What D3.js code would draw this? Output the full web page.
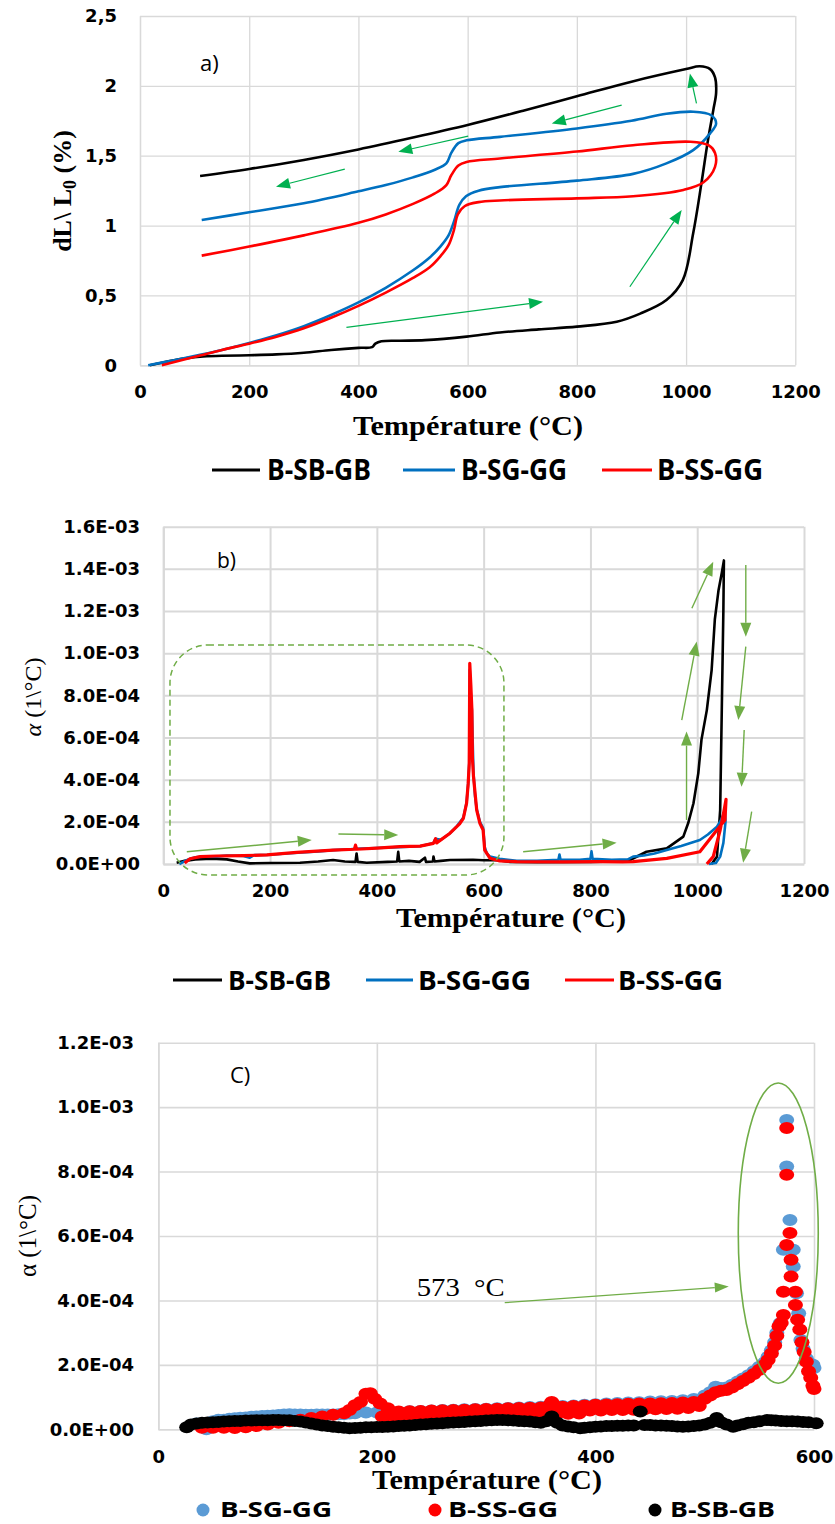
<!DOCTYPE html>
<html><head><meta charset="utf-8">
<script src="https://cdn.jsdelivr.net/npm/d3@7"></script>
<style>body{margin:0;background:#fff}svg{display:block}</style>
</head><body>
<script>
// ---------------- DATA ----------------
const seriesNames = ["B-SB-GB", "B-SG-GG", "B-SS-GG"];
// Panel a) dL/L0 (%) vs temperature (°C), heating then cooling path
const aBlack = [[18,0],[60,0.035],[110,0.062],[150,0.068],[200,0.072],[250,0.078],[300,0.09],[350,0.11],[400,0.125],[425,0.13],[431,0.155],[442,0.172],[476,0.176],[522,0.18],[598,0.205],[659,0.235],[730,0.257],[800,0.277],[873,0.312],[916,0.37],[964,0.467],[994,0.61],[1013,0.945],[1028,1.30],[1040,1.61],[1050,1.83],[1055,1.95],[1053,2.06],[1044,2.12],[1025,2.14],[1000,2.12],[900,2.03],[800,1.925],[700,1.82],[600,1.72],[500,1.63],[400,1.545],[300,1.47],[200,1.405],[110,1.355]];
const aBlue = [[15,0],[60,0.035],[110,0.075],[150,0.11],[200,0.16],[250,0.215],[300,0.28],[350,0.36],[400,0.45],[450,0.555],[500,0.68],[530,0.77],[550,0.85],[565,0.93],[575,1.03],[585,1.15],[597,1.21],[620,1.25],[659,1.275],[800,1.322],[903,1.37],[964,1.445],[1013,1.54],[1044,1.66],[1055,1.73],[1046,1.79],[1013,1.815],[964,1.80],[900,1.75],[800,1.695],[659,1.635],[598,1.61],[583,1.59],[570,1.52],[561,1.445],[540,1.40],[500,1.345],[450,1.29],[400,1.245],[300,1.16],[200,1.095],[113,1.04]];
const aRed = [[40,0],[110,0.07],[150,0.11],[200,0.155],[250,0.205],[300,0.265],[350,0.34],[400,0.425],[450,0.52],[500,0.625],[530,0.7],[550,0.78],[565,0.86],[575,0.97],[582,1.08],[595,1.14],[620,1.168],[659,1.18],[800,1.195],[903,1.21],[995,1.255],[1032,1.31],[1053,1.42],[1053,1.52],[1041,1.575],[1008,1.60],[903,1.575],[800,1.53],[659,1.48],[598,1.455],[583,1.43],[570,1.36],[561,1.29],[540,1.23],[500,1.155],[450,1.08],[400,1.02],[300,0.93],[200,0.85],[113,0.785]];
const aTicksX = [0,200,400,600,800,1000,1200];
const aTicksY = [0,0.5,1,1.5,2,2.5];
// arrows [T1,v1,T2,v2]
const aArrows = [[378,0.272,738,0.455],[897,0.562,992,1.111],[1019,1.874,1007,2.089],[882,1.862,754,1.731],[601,1.640,473,1.528],[375,1.404,249,1.278]];

// Panel b) alpha (x 1e-4 /°C) vs temperature
const bBlack = [[25,0.06],[40,0.15],[60,0.22],[90,0.25],[119,0.22],[140,0.12],[162,0.03],[200,0.05],[256,0.06],[290,0.12],[318,0.19],[340,0.12],[360,0.1],[362,0.5],[364,0.1],[381,0.06],[420,0.1],[438,0.12],[440,0.58],[442,0.12],[460,0.15],[480,0.1],[490,0.3],[492,0.1],[505,0.12],[506,0.35],[508,0.12],[520,0.15],[537,0.19],[580,0.2],[600,0.18],[624,0.19],[650,0.1],[700,0.08],[800,0.1],[850,0.12],[874,0.19],[905,0.58],[943,0.74],[974,1.3],[983,1.93],[993,2.88],[1002,4.3],[1008,5.9],[1018,7.3],[1027,9.2],[1033,11.6],[1040,13.0],[1046,13.8],[1050,14.4],[1049,12.05],[1046,7.3],[1043,2.56],[1037,0.35],[1027,0]];
const bBlue = [[30,0],[45,0.2],[60,0.32],[80,0.36],[100,0.35],[119,0.4],[150,0.38],[162,0.3],[170,0.42],[194,0.43],[230,0.5],[260,0.55],[290,0.6],[318,0.66],[350,0.7],[360,0.72],[400,0.76],[440,0.8],[481,0.84],[506,1.0],[510,1.2],[520,1.15],[537,1.46],[550,1.8],[562,2.2],[568,2.9],[571,3.8],[573,4.8],[574,9.2],[576,8.0],[578,7.3],[581,4.3],[584,3.2],[587,2.6],[593,2.0],[599,1.7],[602,0.8],[606,0.5],[612,0.35],[630,0.25],[662,0.15],[700,0.15],[740,0.2],[742,0.45],[744,0.2],[780,0.2],[800,0.25],[802,0.6],[804,0.25],[840,0.2],[870,0.22],[880,0.35],[900,0.4],[920,0.5],[943,0.66],[970,0.85],[1005,1.14],[1020,1.4],[1037,1.77],[1045,2.1],[1052,2.56],[1053,2.0],[1049,1.0],[1043,0.35],[1035,0.05],[1022,0]];
const bRed = [[40,0.05],[50,0.25],[69,0.35],[100,0.38],[150,0.4],[194,0.43],[250,0.55],[318,0.66],[358,0.7],[360,0.9],[362,0.7],[400,0.75],[443,0.82],[481,0.85],[506,0.98],[510,1.2],[512,1.0],[537,1.46],[555,1.9],[562,2.17],[568,2.88],[571,3.8],[573,4.78],[574,9.52],[576,8.5],[578,7.3],[579,5.0],[581,4.14],[587,2.56],[593,1.93],[599,1.61],[602,0.66],[612,0.27],[630,0.15],[662,0.11],[750,0.1],[818,0.11],[860,0.1],[880,0.11],[943,0.27],[1005,0.58],[1037,1.61],[1052,2.09],[1054,3.07],[1050,2.5],[1043,1.61],[1030,0.35],[1018,0]];
const bTicksX = [0,200,400,600,800,1000,1200];
const bTicksY = [0,2,4,6,8,10,12,14,16];
const bArrows = [[44,0.58,278,1.14],[328,1.42,440,1.38],[674,0.58,849,1.01],[980,2.09,980,6.28],[971,6.83,999,10.55],[990,12.13,1030,14.34],[1091,14.18,1091,10.78],[1091,10.31,1077,6.83],[1088,6.36,1083,3.67],[1102,2.48,1086,0.06]];
const bBox = [12.5, 638, -0.52, 10.39]; // T0,T1,v0,v1

// Panel c) alpha (x 1e-4 /°C) scatter, 0-600 °C
const cBlue = [[35,0.18],[44,0.0],[50,0.25],[55,0.3],[60,0.3],[65,0.33],[70,0.34],[75,0.36],[80,0.37],[85,0.39],[90,0.4],[95,0.41],[100,0.42],[105,0.43],[110,0.44],[115,0.46],[120,0.47],[125,0.46],[130,0.46],[135,0.45],[140,0.45],[145,0.46],[150,0.46],[155,0.46],[160,0.46],[165,0.47],[170,0.47],[175,0.49],[180,0.5],[190,0.52],[200,0.52],[210,0.53],[220,0.54],[230,0.56],[240,0.57],[250,0.58],[260,0.6],[270,0.61],[280,0.62],[290,0.63],[300,0.64],[310,0.65],[320,0.66],[330,0.68],[340,0.69],[350,0.7],[360,0.82],[370,0.72],[380,0.74],[390,0.76],[400,0.78],[410,0.8],[420,0.82],[430,0.83],[440,0.84],[450,0.86],[460,0.87],[470,0.88],[480,0.9],[490,0.94],[500,1.05],[505,1.15],[510,1.32],[515,1.28],[520,1.3],[525,1.38],[530,1.48],[535,1.58],[540,1.68],[545,1.8],[550,1.94],[555,2.08],[558,2.25],[561,2.45],[564,2.7],[566,3.0],[569,3.29],[572,5.57],[575,8.16],[575,9.6],[578,6.5],[581,5.57],[581,5.05],[584,4.22],[586,3.6],[588,2.77],[590,2.5],[593,2.2],[596,2.05],[599,2.0],[600,1.9]];
const cRed = [[40,0.05],[50,0.05],[60,0.05],[70,0.04],[80,0.06],[90,0.1],[100,0.15],[110,0.2],[120,0.25],[130,0.3],[140,0.35],[150,0.4],[160,0.45],[170,0.5],[175,0.6],[180,0.75],[185,0.85],[190,1.1],[194,1.12],[198,0.95],[203,0.8],[210,0.65],[220,0.55],[230,0.56],[240,0.57],[250,0.58],[260,0.59],[270,0.6],[280,0.61],[290,0.62],[300,0.63],[310,0.64],[320,0.65],[330,0.66],[340,0.67],[350,0.68],[358,0.75],[360,0.85],[362,0.75],[370,0.7],[380,0.72],[390,0.74],[400,0.76],[410,0.77],[420,0.78],[430,0.79],[440,0.8],[450,0.8],[460,0.81],[470,0.82],[480,0.83],[490,0.85],[500,0.95],[505,1.05],[510,1.15],[515,1.2],[520,1.22],[525,1.3],[530,1.4],[535,1.5],[540,1.6],[545,1.72],[550,1.85],[555,2.0],[558,2.15],[561,2.35],[564,2.6],[566,2.9],[568,3.2],[570,3.3],[572,3.55],[572,4.27],[575,5.72],[575,7.9],[575,9.35],[578,6.09],[579,5.26],[579,4.74],[583,4.27],[583,3.86],[585,3.4],[587,3.1],[589,2.7],[591,2.4],[593,2.1],[595,1.8],[597,1.6],[599,1.35],[600,1.25],
  [205,0.4],[215,0.38],[225,0.37],[235,0.38],[245,0.39],[255,0.4],[265,0.41],[275,0.42],[285,0.43],[295,0.44],[305,0.45],[315,0.45],[325,0.46],[335,0.46],[345,0.47],[355,0.47],[365,0.48],[375,0.48],[385,0.49],[395,0.58],[405,0.58],[415,0.6],[425,0.6],[435,0.61],[445,0.62],[455,0.62],[465,0.63],[475,0.64],[485,0.66],[495,0.72]];
const cBlack = [[26,0.06],[30,0.15],[35,0.18],[40,0.2],[45,0.21],[50,0.22],[55,0.23],[60,0.24],[65,0.25],[70,0.26],[75,0.26],[80,0.27],[85,0.27],[90,0.28],[95,0.28],[100,0.28],[105,0.29],[110,0.29],[115,0.28],[120,0.28],[125,0.26],[130,0.24],[135,0.21],[140,0.18],[145,0.15],[150,0.12],[155,0.1],[160,0.08],[165,0.06],[170,0.05],[175,0.03],[180,0.04],[185,0.05],[190,0.06],[195,0.06],[200,0.07],[205,0.07],[210,0.08],[215,0.09],[220,0.1],[225,0.11],[230,0.12],[235,0.13],[240,0.15],[245,0.16],[250,0.17],[255,0.18],[260,0.19],[265,0.2],[270,0.21],[275,0.22],[280,0.23],[285,0.24],[290,0.25],[295,0.26],[300,0.27],[305,0.28],[310,0.29],[315,0.29],[320,0.28],[325,0.27],[330,0.26],[335,0.25],[340,0.24],[345,0.22],[350,0.2],[355,0.25],[360,0.4],[365,0.2],[370,0.12],[375,0.09],[380,0.06],[386,0.03],[390,0.05],[395,0.06],[400,0.08],[405,0.09],[410,0.1],[415,0.1],[420,0.11],[425,0.11],[430,0.12],[435,0.12],[441,0.55],[445,0.13],[450,0.13],[455,0.12],[460,0.12],[465,0.11],[470,0.1],[475,0.09],[480,0.08],[485,0.09],[490,0.1],[495,0.12],[500,0.15],[505,0.2],[511,0.35],[515,0.22],[520,0.15],[526,0.08],[530,0.12],[535,0.16],[540,0.2],[545,0.22],[550,0.25],[557,0.29],[561,0.28],[565,0.27],[570,0.26],[575,0.25],[580,0.25],[585,0.24],[590,0.23],[595,0.22],[602,0.19]];
const cTicksX = [0,200,400,600];
const cTicksY = [0,2,4,6,8,10,12];
const cArrow = [317,3.93,522,4.43];
const cEllipse = [567.3, 6.09, 36.6, 4.66]; // cx, cy, rx, ry (data units)

// ---------------- DRAW ----------------
const BLACK = "#000000", BLUE = "#0070c0", RED = "#ff0000", CBLUE = "#5b9bd5";
const GREEN_A = "#00b050", GREEN_B = "#70ad47", GRID = "#d9d9d9";
const svg = d3.select("body").append("svg").attr("width", 835).attr("height", 1524);

const fmtE = v => d3.format(".1e")(v * 1e-4).replace(/e([+-])(\d+)$/, (m, s, d) => "E" + s + d.padStart(2, "0"));
const fmtComma = d => String(d).replace(".", ",");

function axes(x, y, tx, ty, fmtX, fmtY, padL, padB, gw) {
  const [x0, x1] = x.range(), [y0, y1] = y.range();
  const gy = svg.append("g").attr("transform", `translate(${x0},0)`)
    .call(d3.axisLeft(y).tickValues(ty).tickFormat(fmtY).tickSize(-(x1 - x0)).tickSizeOuter(0).tickPadding(padL));
  const gx = svg.append("g").attr("transform", `translate(0,${y0})`)
    .call(d3.axisBottom(x).tickValues(tx).tickFormat(fmtX).tickSize(-(y0 - y1)).tickSizeOuter(0).tickPadding(padB));
  [gx, gy].forEach(g => {
    g.selectAll(".tick line").attr("stroke", GRID).attr("stroke-width", gw);
    g.select(".domain").attr("stroke", GRID).attr("stroke-width", gw);
    g.selectAll("text").attr("font-family", "DejaVu Sans").attr("font-weight", "bold")
      .attr("font-size", 18).attr("fill", "#000");
  });
}

function arrow(x1, y1, x2, y2, color, w, hl, hw) {
  const dx = x2 - x1, dy = y2 - y1, L = Math.hypot(dx, dy), ux = dx / L, uy = dy / L;
  const bx = x2 - ux * hl, by = y2 - uy * hl;
  svg.append("line").attr("x1", x1).attr("y1", y1).attr("x2", bx).attr("y2", by)
    .attr("stroke", color).attr("stroke-width", w);
  svg.append("path").attr("d", `M${x2},${y2}L${bx - uy * hw / 2},${by + ux * hw / 2}L${bx + uy * hw / 2},${by - ux * hw / 2}Z`)
    .attr("fill", color);
}

function xTitle(cx, yb) {
  svg.append("text").attr("x", cx).attr("y", yb).attr("text-anchor", "middle")
    .attr("font-family", "Liberation Serif").attr("font-weight", "bold").attr("font-size", 27)
    .attr("textLength", 230).attr("lengthAdjust", "spacingAndGlyphs").text("Température (°C)");
}

function lineLegend(items, yc, fs) {
  items.forEach(it => {
    svg.append("line").attr("x1", it.l0).attr("x2", it.l1).attr("y1", yc).attr("y2", yc)
      .attr("stroke", it.c).attr("stroke-width", 3);
    svg.append("text").attr("x", it.t0).attr("y", yc).attr("dy", "0.36em")
      .attr("font-family", "Open Sans").attr("font-weight", 700).attr("font-size", fs)
      .attr("textLength", it.tw).attr("lengthAdjust", "spacingAndGlyphs").text(it.name);
  });
}

// ---------- Panel a ----------
const xA = d3.scaleLinear().domain([0, 1200]).range([140, 795.3]);
const yA = d3.scaleLinear().domain([0, 2.5]).range([365.3, 16]);
axes(xA, yA, aTicksX, aTicksY, d => d, fmtComma, 23, 20, 1.3);
const lineA = d3.line().x(d => xA(d[0])).y(d => yA(d[1])).curve(d3.curveCatmullRom.alpha(0.5));
[[aBlack, BLACK], [aBlue, BLUE], [aRed, RED]].forEach(([d, c]) =>
  svg.append("path").attr("d", lineA(d)).attr("fill", "none").attr("stroke", c).attr("stroke-width", 2.6));
aArrows.forEach(a => arrow(xA(a[0]), yA(a[1]), xA(a[2]), yA(a[3]), GREEN_A, 1.2, 14, 11));
svg.append("text").attr("x", xA(110)).attr("y", yA(2.105)).attr("font-family", "Open Sans")
  .attr("font-size", 22).text("a)");
svg.append("text").attr("transform", "translate(71,191) rotate(-90)").attr("text-anchor", "middle")
  .attr("font-family", "Liberation Serif").attr("font-weight", "bold").attr("font-size", 26)
  .call(t => {
    t.append("tspan").text("dL\\ L");
    t.append("tspan").attr("dy", 5).attr("font-size", 18).text("0");
    t.append("tspan").attr("dy", -5).text(" (%)");
  });
xTitle(468, 435);
lineLegend([
  {name: seriesNames[0], c: BLACK, l0: 212, l1: 260, t0: 267, tw: 104},
  {name: seriesNames[1], c: BLUE, l0: 403, l1: 455, t0: 461, tw: 106},
  {name: seriesNames[2], c: RED, l0: 602, l1: 652, t0: 657, tw: 106}
], 470, 28);

// ---------- Panel b ----------
const xB = d3.scaleLinear().domain([0, 1200]).range([163.3, 804]);
const yB = d3.scaleLinear().domain([0, 16]).range([864, 526.7]);
axes(xB, yB, bTicksX, bTicksY, d => d, fmtE, 23.3, 20, 2);
const lineB = d3.line().x(d => xB(d[0])).y(d => yB(d[1]));
[[bBlack, BLACK, 2.6], [bBlue, BLUE, 2.6], [bRed, RED, 3.2]].forEach(([d, c, w]) =>
  svg.append("path").attr("d", lineB(d)).attr("fill", "none").attr("stroke", c).attr("stroke-width", w)
    .attr("stroke-linejoin", "round"));
svg.append("rect").attr("x", xB(bBox[0])).attr("y", yB(bBox[3]))
  .attr("width", xB(bBox[1]) - xB(bBox[0])).attr("height", yB(bBox[2]) - yB(bBox[3]))
  .attr("rx", 38).attr("ry", 38).attr("fill", "none").attr("stroke", GREEN_B)
  .attr("stroke-width", 1.5).attr("stroke-dasharray", "6,4");
bArrows.forEach(a => arrow(xB(a[0]), yB(a[1]), xB(a[2]), yB(a[3]), GREEN_B, 1.4, 14, 11));
svg.append("text").attr("x", xB(100.6)).attr("y", yB(14.04)).attr("font-family", "Open Sans")
  .attr("font-size", 21).text("b)");
svg.append("text").attr("transform", "translate(41,697) rotate(-90)").attr("text-anchor", "middle")
  .attr("font-family", "Liberation Serif").attr("font-size", 24)
  .call(t => {
    t.append("tspan").attr("font-style", "italic").text("α");
    t.append("tspan").text(" (1\\°C)");
  });
xTitle(511, 927);
lineLegend([
  {name: seriesNames[0], c: BLACK, l0: 173, l1: 222, t0: 228, tw: 103},
  {name: seriesNames[1], c: BLUE, l0: 366, l1: 413, t0: 418, tw: 113},
  {name: seriesNames[2], c: RED, l0: 565, l1: 614, t0: 618, tw: 105}
], 980, 27);

// ---------- Panel c ----------
const xC = d3.scaleLinear().domain([0, 600]).range([158.3, 814]);
const yC = d3.scaleLinear().domain([0, 12]).range([1429.3, 1042.7]);
axes(xC, yC, cTicksX, cTicksY, d => d, fmtE, 24.3, 21, 1.6);
[[cBlue, CBLUE], [cRed, RED], [cBlack, BLACK]].forEach(([d, c]) =>
  svg.append("g").selectAll("ellipse").data(d).join("ellipse")
    .attr("cx", p => xC(p[0])).attr("cy", p => yC(p[1])).attr("rx", 7.5).attr("ry", 6).attr("fill", c));
svg.append("ellipse").attr("cx", xC(cEllipse[0])).attr("cy", yC(cEllipse[1]))
  .attr("rx", xC(cEllipse[2]) - xC(0)).attr("ry", yC(0) - yC(cEllipse[3]))
  .attr("fill", "none").attr("stroke", GREEN_B).attr("stroke-width", 1.6);
arrow(xC(cArrow[0]), yC(cArrow[1]), xC(cArrow[2]), yC(cArrow[3]), GREEN_B, 1.2, 14, 10);
svg.append("text").attr("x", xC(236.5)).attr("y", yC(4.14)).attr("font-family", "Liberation Serif")
  .attr("font-size", 25).attr("textLength", 88).attr("lengthAdjust", "spacingAndGlyphs").text("573 \u00a0°C");
svg.append("text").attr("x", xC(65.6)).attr("y", yC(10.75)).attr("font-family", "Open Sans")
  .attr("font-size", 22).text("C)");
svg.append("text").attr("transform", "translate(36,1236) rotate(-90)").attr("text-anchor", "middle")
  .attr("font-family", "Liberation Serif").attr("font-size", 25).text("α (1\\°C)");
xTitle(487, 1489);
[[seriesNames[1], CBLUE, 203, 220, 112], [seriesNames[2], RED, 435, 448, 110], [seriesNames[0], BLACK, 655, 670, 105]]
  .forEach(([n, c, cx, tx, tw]) => {
    svg.append("circle").attr("cx", cx).attr("cy", 1510).attr("r", 6.5).attr("fill", c);
    svg.append("text").attr("x", tx).attr("y", 1517).attr("font-family", "Open Sans")
      .attr("font-weight", 700).attr("font-size", 21).attr("textLength", tw).attr("lengthAdjust", "spacingAndGlyphs").text(n);
  });
</script>
</body></html>
